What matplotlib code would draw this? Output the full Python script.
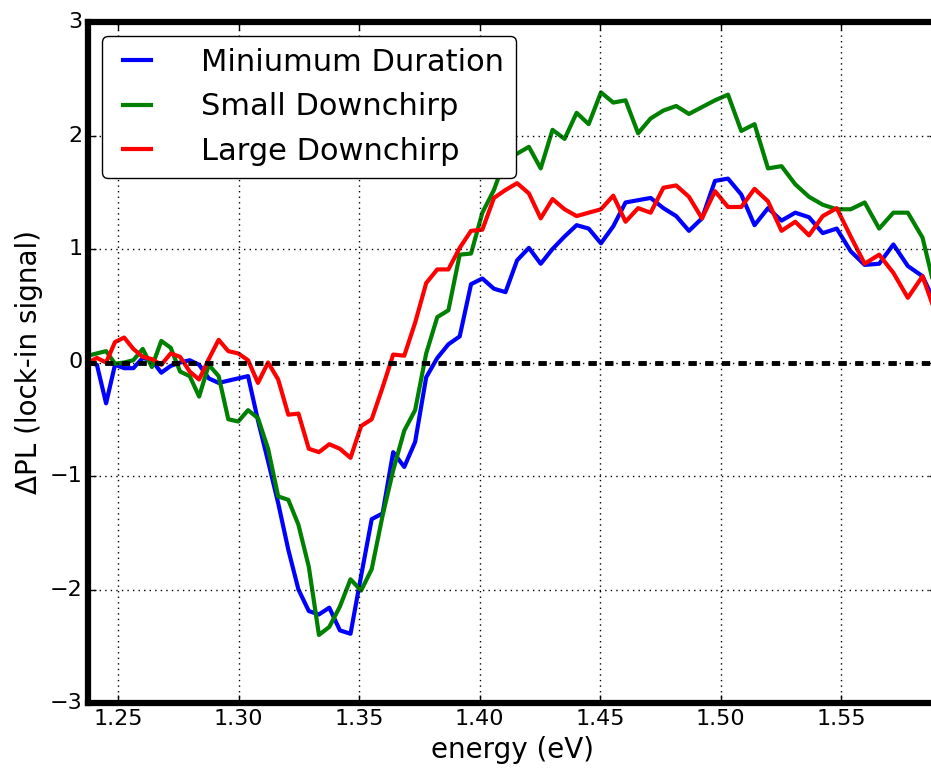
import matplotlib
matplotlib.use('Agg')
import matplotlib.pyplot as plt
import numpy as np

plt.style.use('classic')

energy = [1.2375, 1.2412, 1.2450, 1.2487, 1.2525, 1.2563, 1.2602, 1.2640, 1.2679, 1.2718,
          1.2757, 1.2797, 1.2836, 1.2876, 1.2917, 1.2957, 1.2998, 1.3039, 1.3080, 1.3122,
          1.3164, 1.3206, 1.3248, 1.3291, 1.3333, 1.3376, 1.3420, 1.3464, 1.3508, 1.3552,
          1.3597, 1.3641, 1.3687, 1.3732, 1.3778, 1.3824, 1.3870, 1.3917, 1.3964, 1.4011,
          1.4059, 1.4107, 1.4155, 1.4204, 1.4253, 1.4302, 1.4352, 1.4402, 1.4452, 1.4503,
          1.4554, 1.4605, 1.4657, 1.4709, 1.4762, 1.4815, 1.4868, 1.4922, 1.4976, 1.5030,
          1.5085, 1.5140, 1.5196, 1.5252, 1.5309, 1.5366, 1.5423, 1.5481, 1.5539, 1.5597,
          1.5657, 1.5716, 1.5776, 1.5837, 1.5897]

min_duration = [0.00, -0.02, -0.36, -0.02, -0.05, -0.05, 0.04, 0.02, -0.09, -0.03,
                0.00, 0.02, -0.02, -0.14, -0.18, -0.16, -0.14, -0.12, -0.51, -0.87,
                -1.24, -1.65, -2.00, -2.19, -2.22, -2.16, -2.36, -2.39, -1.88, -1.38,
                -1.33, -0.79, -0.92, -0.70, -0.13, 0.04, 0.16, 0.23, 0.69, 0.74,
                0.65, 0.62, 0.90, 1.01, 0.87, 1.00, 1.11, 1.21, 1.18, 1.05,
                1.20, 1.41, 1.43, 1.45, 1.36, 1.29, 1.16, 1.27, 1.60, 1.62,
                1.48, 1.21, 1.36, 1.25, 1.32, 1.28, 1.14, 1.18, 0.98, 0.86,
                0.87, 1.04, 0.85, 0.76, 0.49]

small_chirp = [0.06, 0.08, 0.10, -0.01, 0.00, 0.02, 0.12, -0.04, 0.19, 0.13,
               -0.08, -0.12, -0.30, -0.02, -0.12, -0.50, -0.52, -0.42, -0.49, -0.76,
               -1.18, -1.21, -1.43, -1.80, -2.40, -2.33, -2.15, -1.91, -2.01, -1.82,
               -1.35, -0.95, -0.60, -0.42, 0.08, 0.40, 0.46, 0.95, 0.96, 1.32,
               1.52, 1.80, 1.84, 1.90, 1.71, 2.05, 1.97, 2.20, 2.10, 2.38,
               2.29, 2.31, 2.02, 2.15, 2.22, 2.26, 2.19, 2.25, 2.31, 2.36,
               2.04, 2.10, 1.71, 1.73, 1.57, 1.46, 1.39, 1.35, 1.35, 1.41,
               1.18, 1.32, 1.32, 1.10, 0.57]

large_chirp = [0.00, 0.04, 0.00, 0.18, 0.22, 0.12, 0.05, 0.03, -0.02, 0.08,
               0.05, -0.08, -0.15, 0.03, 0.20, 0.10, 0.08, 0.02, -0.18, 0.00,
               -0.15, -0.46, -0.45, -0.76, -0.79, -0.72, -0.76, -0.84, -0.56, -0.50,
               -0.22, 0.07, 0.06, 0.35, 0.70, 0.82, 0.82, 1.01, 1.16, 1.17,
               1.45, 1.52, 1.58, 1.49, 1.27, 1.44, 1.35, 1.29, 1.32, 1.35,
               1.47, 1.24, 1.36, 1.32, 1.54, 1.56, 1.46, 1.27, 1.51, 1.37,
               1.37, 1.53, 1.42, 1.16, 1.24, 1.12, 1.29, 1.36, 1.11, 0.87,
               0.95, 0.79, 0.57, 0.76, 0.40]

labels = ['Miniumum Duration', 'Small Downchirp', 'Large Downchirp']
xticks = [1.25, 1.30, 1.35, 1.40, 1.45, 1.50, 1.55]

fig = plt.figure(figsize=(9.31, 7.69), dpi=100, facecolor='white')
ax = fig.add_axes([88 / 931, 1 - 703 / 769, 849 / 931, 681 / 769])

ax.plot(energy, min_duration, color='b', lw=3, label=labels[0])
ax.plot(energy, small_chirp, color='g', lw=3, label=labels[1])
ax.plot(energy, large_chirp, color='r', lw=3, label=labels[2])
ax.axhline(0, color='k', lw=3.5, ls='--')

ax.set_xlim(energy[0], energy[-1])
ax.set_ylim(-3, 3)
ax.set_xticks(xticks)
ax.set_xticklabels(['%.2f' % t for t in xticks])
ax.grid(True, color='k', ls=':', lw=1)
for s in ax.spines.values():
    s.set_linewidth(4.5)
ax.tick_params(labelsize=16, length=6, width=1)

ax.set_xlabel('energy (eV)', fontsize=20)
ax.set_ylabel('ΔPL (lock-in signal)', fontsize=20)
ax.legend(loc='upper left', fontsize=22, fancybox=True, handlelength=1.5,
          handletextpad=1.35, borderaxespad=0.45)

plt.savefig('out.png', dpi=100, facecolor='white')
